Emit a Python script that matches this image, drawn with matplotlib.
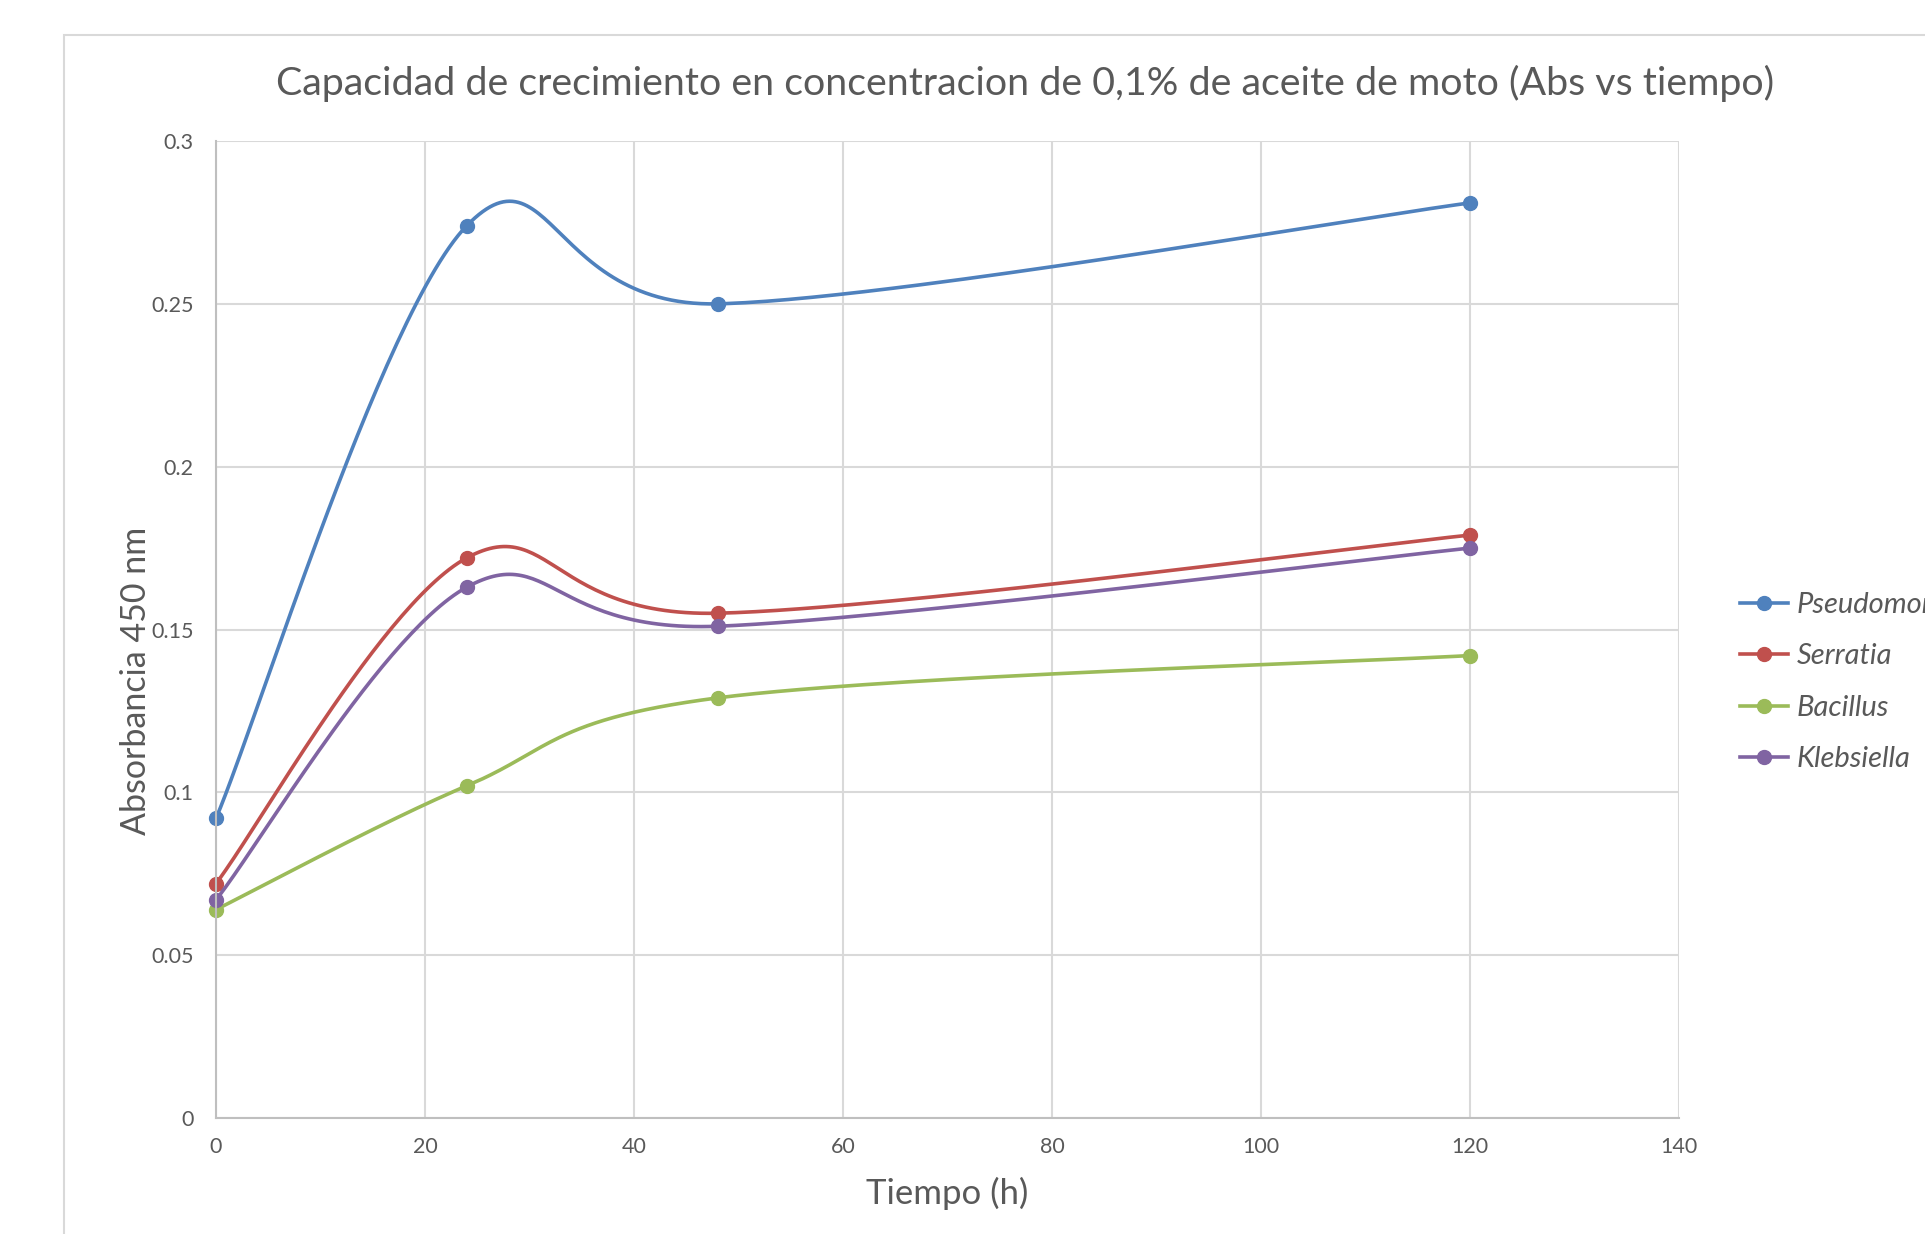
import numpy as np
import matplotlib
matplotlib.use("Agg")
import matplotlib.pyplot as plt
from matplotlib.lines import Line2D
from matplotlib.patches import Rectangle

# ---- data ----
tiempo = [0, 24, 48, 120]
series_names = ["Pseudomonas", "Serratia", "Bacillus", "Klebsiella"]
pseudomonas = [0.092, 0.274, 0.250, 0.281]
serratia = [0.072, 0.172, 0.155, 0.179]
bacillus = [0.064, 0.102, 0.129, 0.142]
klebsiella = [0.067, 0.163, 0.151, 0.175]
colors = ["#4F81BD", "#C0504D", "#9BBB59", "#8064A2"]
x_ticks = [0, 20, 40, 60, 80, 100, 120, 140]
y_ticks = [0, 0.05, 0.1, 0.15, 0.2, 0.25, 0.3]
y_tick_labels = ["0", "0.05", "0.1", "0.15", "0.2", "0.25", "0.3"]

title = "Capacidad de crecimiento en concentracion de 0,1% de aceite de moto (Abs vs tiempo)"
xlabel = "Tiempo (h)"
ylabel = "Absorbancia 450 nm"

plt.rcParams['font.family'] = ['Lato', 'DejaVu Sans']
W, H = 1925, 1234
fig = plt.figure(figsize=(W / 100, H / 100), dpi=100)

# chart area border (cropped by image edge)
fig.patches.append(Rectangle((64 / W, -0.1), 1.2, 1 - 35 / H + 0.1,
                             transform=fig.transFigure, fill=False,
                             edgecolor="#D9D9D9", linewidth=1.5))

left, right, top, bottom = 216, 1679, 141, 1118
ax = fig.add_axes([left / W, 1 - bottom / H, (right - left) / W, (bottom - top) / H])
ax.set_xlim(0, 140)
ax.set_ylim(0, 0.3)
ax.set_xticks(x_ticks)
ax.set_yticks(y_ticks)
ax.set_yticklabels(y_tick_labels)
ax.grid(True, color="#D9D9D9", linewidth=1.5)
ax.set_axisbelow(True)
for s in ["top", "right"]:
    ax.spines[s].set_visible(False)
for s in ["left", "bottom"]:
    ax.spines[s].set_color("#BFBFBF")
    ax.spines[s].set_linewidth(1.5)
ax.tick_params(length=0, labelsize=15.5, labelcolor="#595959")
ax.tick_params(axis="x", pad=14)
ax.tick_params(axis="y", pad=16)


def smooth(xs, ys, n=60):
    pts = ax.transData.transform(np.column_stack([xs, ys]))
    P = np.vstack([pts[0], pts, pts[-1]])
    out = []
    for i in range(1, len(P) - 2):
        p0, p1, p2, p3 = P[i - 1], P[i], P[i + 1], P[i + 2]
        c1 = p1 + (p2 - p0) / 6
        c2 = p2 - (p3 - p1) / 6
        t = np.linspace(0, 1, n)[:, None]
        seg = ((1 - t) ** 3) * p1 + 3 * ((1 - t) ** 2) * t * c1 + 3 * (1 - t) * t ** 2 * c2 + t ** 3 * p2
        out.append(seg if i == 1 else seg[1:])
    out = np.vstack(out)
    return ax.transData.inverted().transform(out)


handles = []
for name, vals, c in zip(series_names, [pseudomonas, serratia, bacillus, klebsiella], colors):
    curve = smooth(tiempo, vals)
    ax.plot(curve[:, 0], curve[:, 1], color=c, linewidth=2.6, solid_capstyle="round", clip_on=False)
    ax.plot(tiempo, vals, linestyle="none", marker="o", markersize=10, color=c, clip_on=False)
    handles.append(Line2D([], [], color=c, linewidth=2.6, marker="o", markersize=10))

leg = fig.legend(handles, series_names, loc="upper left",
                 bbox_to_anchor=(1740 / W, 1 - 592 / H), frameon=False,
                 borderpad=0, borderaxespad=0,
                 handlelength=1.65, handletextpad=0.3, labelspacing=0.87,
                 prop={"size": 21, "style": "italic"}, labelcolor="#595959")

fig.text(1025 / W, 1 - 83 / H, title, ha="center", va="center", fontsize=28.4, color="#595959")
fig.text(947 / W, 1 - 1193 / H, xlabel, ha="center", va="center", fontsize=25, color="#595959")
fig.text(136 / W, 1 - 681 / H, ylabel, ha="center", va="center", rotation=90, fontsize=24.5, color="#595959")

fig.savefig("out.png", dpi=100)
